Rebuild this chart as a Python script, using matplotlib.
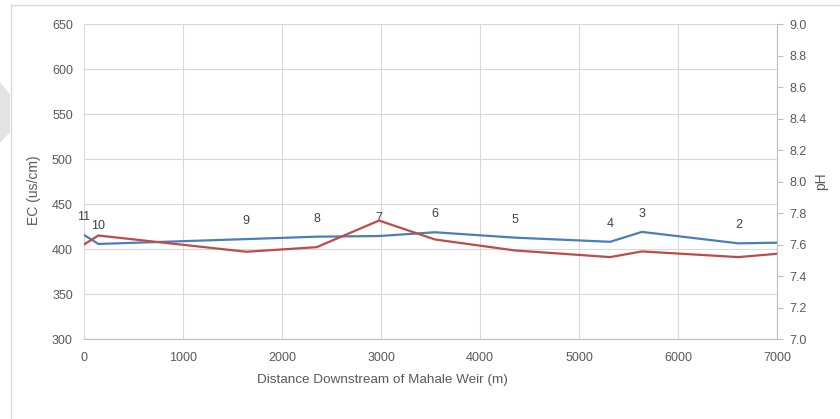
import numpy as np
import matplotlib.pyplot as plt
from matplotlib.patches import Polygon
from matplotlib.lines import Line2D

plt.rcParams['font.family'] = ['Liberation Sans', 'DejaVu Sans']

# sampling stations along the river
station = ['11', '10', '9', '8', '7', '6', '5', '4', '3', '2', '']
dist = [0, 145, 1640, 2350, 2980, 3545, 4355, 5315, 5635, 6610, 7000]
ec = [415.6, 405.6, 411.0, 413.7, 414.4, 418.6, 412.6, 408.0, 419.0, 406.3, 407.0]
ph = [7.600, 7.657, 7.554, 7.583, 7.752, 7.632, 7.562, 7.520, 7.556, 7.520, 7.541]

txt = '#595959'
grid = '#d9d9d9'

fig = plt.figure(figsize=(8.4, 4.19), dpi=100)
ax = fig.add_axes([84/840, 1-339/419, 693/840, 315/419])
ax2 = ax.twinx()

ax.plot(dist, ec, color='#4a7ebb', lw=1.6, zorder=3)
ax2.plot(dist, ph, color='#be4b48', lw=1.6, zorder=3)

for s, x, y in zip(station, dist, ec):
    if s:
        ax.annotate(s, (x, y), xytext=(0, 13), textcoords='offset points',
                    ha='center', va='center', fontsize=9, color='#404040')

ax.set_xlim(0, 7000)
ax.set_ylim(300, 650)
ax2.set_ylim(7.0, 9.0)
ax.set_xticks(np.arange(0, 7001, 1000))
ax.set_yticks(np.arange(300, 651, 50))
ax2.set_yticks(np.arange(7.0, 9.01, 0.2))
ax2.set_yticklabels(['%.1f' % v for v in np.arange(7.0, 9.01, 0.2)])

ax.grid(True, color=grid, lw=0.8)
ax.set_axisbelow(True)

for a in (ax, ax2):
    for sp in a.spines.values():
        sp.set_visible(False)
ax.spines['bottom'].set_visible(True)
ax.spines['bottom'].set_color('#bfbfbf')
ax2.spines['right'].set_visible(True)
ax2.spines['right'].set_color('#bfbfbf')

ax.tick_params(axis='both', length=0, labelsize=9, colors=txt)
ax.tick_params(axis='y', pad=8)
ax.tick_params(axis='x', pad=9)
ax2.tick_params(axis='y', length=4, width=0.8, color='#bfbfbf', labelsize=9,
                colors=txt, pad=5)

ax.set_xlabel('Distance Downstream of Mahale Weir (m)', fontsize=9.7, color=txt)
ax.xaxis.set_label_coords(0.43, -0.11)
ax.set_ylabel('EC (us/cm)', fontsize=10, color=txt)
ax.yaxis.set_label_coords(-0.062, 0.473)
ax2.set_ylabel('pH', fontsize=10, color=txt)
ax2.yaxis.set_label_coords(1.054, 0.5)

# outer chart frame and the grey wedge at the left edge
fig.add_artist(Line2D([11/840, 11/840], [0, 1-5/419], color='#d9d9d9', lw=1,
                      transform=fig.transFigure))
fig.add_artist(Line2D([11/840, 1], [1-5/419, 1-5/419], color='#d9d9d9', lw=1,
                      transform=fig.transFigure))
wedge = np.array([[0, 82], [10, 94], [10, 132], [0, 143]], dtype=float)
wedge[:, 0] /= 840
wedge[:, 1] = 1 - wedge[:, 1] / 419
fig.add_artist(Polygon(wedge, closed=True, color='#e3e3e3', lw=0,
                       transform=fig.transFigure))

plt.savefig('out.png', dpi=100)
